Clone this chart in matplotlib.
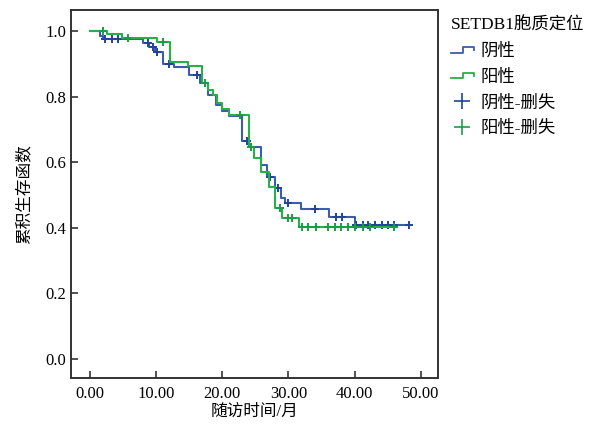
import numpy as np
import matplotlib
matplotlib.use("Agg")
import matplotlib.pyplot as plt
from matplotlib.lines import Line2D
from matplotlib.legend_handler import HandlerBase

plt.rcParams['font.family'] = ['Liberation Serif', 'Noto Sans CJK SC']

# 阴性 (negative) group: step times and survival after each step
neg_t = [0, 1.5, 2.0, 8.0, 9.0, 9.9, 11.0, 12.7, 15.0, 16.6, 17.8, 19.0, 20.0, 21.0,
         23.0, 24.0, 25.8, 26.8, 28.0, 28.9, 29.5, 31.9, 36.1, 40.0]
neg_s = [1.0, 0.985, 0.975, 0.963, 0.952, 0.935, 0.90, 0.89, 0.866, 0.84, 0.805, 0.775, 0.755, 0.74,
         0.665, 0.645, 0.59, 0.555, 0.52, 0.49, 0.475, 0.457, 0.433, 0.408]
neg_end = 48.3
neg_cens = [2.3, 3.3, 4.3, 8.8, 9.5, 10.2, 12.0, 16.2, 23.7, 27.2, 28.4, 30.0, 34.0, 37.2, 38.1,
            40.2, 41.2, 42.0, 43.1, 44.1, 45.0, 46.0, 48.2]

# 阳性 (positive) group
pos_t = [0, 2.6, 4.8, 10.2, 12.1, 14.8, 17.0, 17.8, 18.6, 19.2, 20.0, 21.0, 24.0, 24.8,
         25.8, 27.0, 28.0, 29.0, 31.6]
pos_s = [1.0, 0.99, 0.978, 0.966, 0.905, 0.893, 0.84, 0.82, 0.805, 0.78, 0.762, 0.744, 0.646, 0.613,
         0.57, 0.524, 0.46, 0.43, 0.402]
pos_end = 46.4
pos_cens = [2.0, 5.7, 11.0, 17.4, 22.7, 24.3, 28.8, 30.0, 30.6, 32.0, 33.0, 34.1, 36.0, 37.0,
            38.0, 39.0, 40.0, 41.3, 42.4, 46.0]

blue = '#3b5ea8'
green = '#25b04a'
blue_c = '#23439c'
green_c = '#1a9e45'


def surv_at(times, surv, x):
    idx = np.searchsorted(times, x, side='right') - 1
    return np.array(surv)[idx]


class StepHandler(HandlerBase):
    def create_artists(self, legend, orig_handle, xdescent, ydescent, width, height, fontsize, trans):
        x0, x1 = -xdescent, -xdescent + width
        xm = x0 + width * 0.55
        yl = -ydescent + height * 0.25
        yh = -ydescent + height * 0.7
        ln = Line2D([x0, xm, xm, x1, x1], [yl, yl, yh, yh, yh - height * 0.25],
                    color=orig_handle.get_color(), lw=1.3, transform=trans)
        return [ln]


fig = plt.figure(figsize=(5.9, 4.26), dpi=100)
ax = fig.add_axes([0.120, 0.1127, 0.622, 0.8638])

for t, s, end, cens, col, colc in [(neg_t, neg_s, neg_end, neg_cens, blue, blue_c),
                                   (pos_t, pos_s, pos_end, pos_cens, green, green_c)]:
    ax.step(list(t) + [end], list(s) + [s[-1]], where='post', color=col, lw=1.5)
    ax.plot(cens, surv_at(t, s, cens), ls='none', marker='+', ms=6, mew=1.4, color=colc)

ax.set_xlim(-2.87, 52.57)
ax.set_ylim(-0.058, 1.064)
ax.set_xticks(np.arange(0, 51, 10))
ax.set_xticklabels(['%.2f' % v for v in np.arange(0, 51, 10)])
ax.set_yticks(np.arange(0, 1.01, 0.2))
ax.set_yticklabels(['%.1f' % v for v in np.arange(0, 1.01, 0.2)])
ax.tick_params(direction='in', length=5, width=1.2, labelsize=12, color='#333333')
ax.tick_params(axis='x', pad=6)
for sp in ax.spines.values():
    sp.set_linewidth(1.4)
    sp.set_color('#333333')
ax.set_xlabel('随访时间/月', fontsize=12, labelpad=1)
ax.set_ylabel('累积生存函数', fontsize=12, labelpad=9)

h_neg = Line2D([], [], color=blue)
h_pos = Line2D([], [], color=green)
h_negc = Line2D([], [], color=blue_c, ls='none', marker='+', ms=12, mew=1.2)
h_posc = Line2D([], [], color=green_c, ls='none', marker='+', ms=12, mew=1.2)
leg = fig.legend([h_neg, h_pos, h_negc, h_posc], ['阴性', '阳性', '阴性-删失', '阳性-删失'],
                 title='SETDB1胞质定位', loc='upper left', bbox_to_anchor=(0.738, 0.995),
                 frameon=False, fontsize=12.5, title_fontsize=12.5, handlelength=1.3,
                 handletextpad=0.4, labelspacing=0.55, alignment='left',
                 handler_map={h_neg: StepHandler(), h_pos: StepHandler()})

fig.savefig('out.png', dpi=100)
